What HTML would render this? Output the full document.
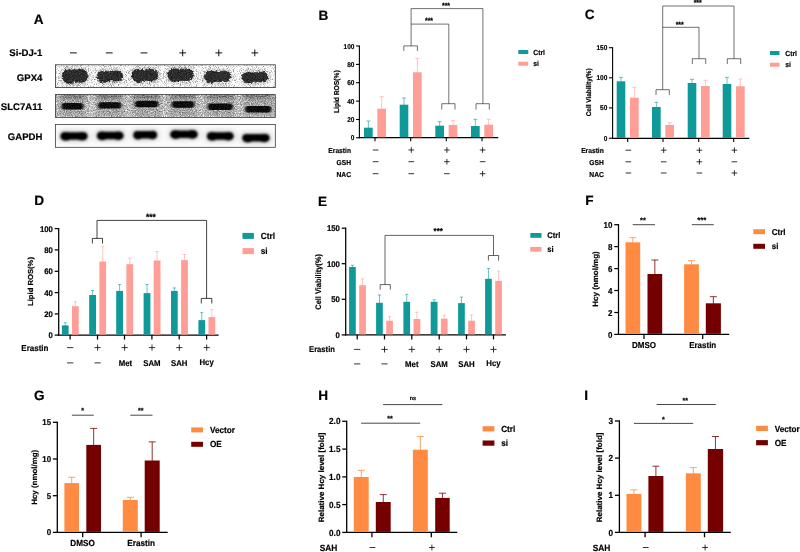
<!DOCTYPE html>
<html><head><meta charset="utf-8"><title>Figure</title>
<style>
html,body{margin:0;padding:0;background:#fff;}
svg{display:block;font-family:"Liberation Sans",sans-serif;fill:#000;}
text{stroke:#000;stroke-width:0.18px;text-rendering:geometricPrecision;}
</style></head><body>
<svg width="800" height="552" viewBox="0 0 800 552">
<rect x="0" y="0" width="800" height="552" fill="#ffffff"/>
<defs>
<filter id="b1" x="-10%" y="-50%" width="120%" height="200%"><feGaussianBlur stdDeviation="2.0 1.6"/></filter>
<filter id="b1b" x="-10%" y="-50%" width="120%" height="200%"><feGaussianBlur stdDeviation="0.6" result="bl"/><feTurbulence type="fractalNoise" baseFrequency="0.45" numOctaves="2" seed="5" result="t"/><feDisplacementMap in="bl" in2="t" scale="3.2" xChannelSelector="R" yChannelSelector="G"/></filter>
<filter id="b2" x="-10%" y="-50%" width="120%" height="200%"><feGaussianBlur stdDeviation="1.0 0.75"/></filter>
<filter id="b3" x="-10%" y="-50%" width="120%" height="200%"><feGaussianBlur stdDeviation="2.5 1.8"/></filter>
<filter id="b4" x="-10%" y="-50%" width="120%" height="200%"><feGaussianBlur stdDeviation="0.9 0.8"/></filter>
<filter id="grain1" x="0" y="0" width="100%" height="100%" color-interpolation-filters="sRGB">
<feTurbulence type="fractalNoise" baseFrequency="1.13" numOctaves="1" seed="3" result="n"/>
<feColorMatrix in="n" type="matrix" values="1 0 0 0 0  1 0 0 0 0  1 0 0 0 0  0 0 0 0 1" result="ng"/>
<feComposite in="SourceGraphic" in2="ng" operator="arithmetic" k1="1.55" k2="0.30" k3="0.12" k4="-0.06" result="m"/>
<feComposite in="m" in2="SourceGraphic" operator="in"/>
</filter>
<filter id="grain2" x="0" y="0" width="100%" height="100%" color-interpolation-filters="sRGB">
<feTurbulence type="fractalNoise" baseFrequency="0.87" numOctaves="2" seed="8" result="n"/>
<feColorMatrix in="n" type="matrix" values="1 0 0 0 0  1 0 0 0 0  1 0 0 0 0  0 0 0 0 1" result="ng"/>
<feComposite in="SourceGraphic" in2="ng" operator="arithmetic" k1="1.0" k2="0.5" k3="0.2" k4="-0.10" result="m"/>
<feComposite in="m" in2="SourceGraphic" operator="in"/>
</filter>
</defs>
<text transform="translate(33.80 23.50)" font-size="13.6" text-anchor="start" font-weight="bold">A</text>
<text transform="translate(42.40 56.10)" font-size="9.6" text-anchor="end" font-weight="bold">Si-DJ-1</text>
<text transform="translate(42.40 80.80)" font-size="9.6" text-anchor="end" font-weight="bold">GPX4</text>
<text transform="translate(42.40 110.20)" font-size="9.6" text-anchor="end" font-weight="bold">SLC7A11</text>
<text transform="translate(42.40 139.90)" font-size="9.6" text-anchor="end" font-weight="bold">GAPDH</text>
<line x1="70.00" y1="52.90" x2="76.80" y2="52.90" stroke="#111" stroke-width="1.0"/>
<line x1="105.80" y1="52.90" x2="112.60" y2="52.90" stroke="#111" stroke-width="1.0"/>
<line x1="140.60" y1="52.90" x2="147.40" y2="52.90" stroke="#111" stroke-width="1.0"/>
<line x1="179.30" y1="52.90" x2="186.10" y2="52.90" stroke="#111" stroke-width="1.0"/>
<line x1="182.70" y1="49.50" x2="182.70" y2="56.30" stroke="#111" stroke-width="1.0"/>
<line x1="215.40" y1="52.90" x2="222.20" y2="52.90" stroke="#111" stroke-width="1.0"/>
<line x1="218.80" y1="49.50" x2="218.80" y2="56.30" stroke="#111" stroke-width="1.0"/>
<line x1="251.40" y1="52.90" x2="258.20" y2="52.90" stroke="#111" stroke-width="1.0"/>
<line x1="254.80" y1="49.50" x2="254.80" y2="56.30" stroke="#111" stroke-width="1.0"/>
<g filter="url(#grain1)"><rect x="55.4" y="64.8" width="219.9" height="22.8" fill="#f2f2f2"/>
<g filter="url(#b1)">
<rect x="59.4" y="65.6" width="31.0" height="20.8" rx="8" fill="#000" opacity="0.22"/>
<rect x="94.5" y="67.4" width="31.0" height="17.6" rx="8" fill="#000" opacity="0.22"/>
<rect x="129.0" y="65.6" width="31.6" height="19.0" rx="8" fill="#000" opacity="0.22"/>
<rect x="165.0" y="65.0" width="31.0" height="19.6" rx="8" fill="#000" opacity="0.22"/>
<rect x="201.6" y="67.4" width="31.9" height="18.1" rx="8" fill="#000" opacity="0.22"/>
<rect x="239.4" y="68.6" width="31.0" height="16.9" rx="8" fill="#000" opacity="0.22"/>
</g><g filter="url(#b1b)">
<rect x="61.8" y="69.4" width="26.2" height="13.2" rx="6.6" fill="#2a2a2a"/>
<ellipse cx="69.0" cy="76.6" rx="6.5" ry="7.4" fill="#2a2a2a"/>
<ellipse cx="80.8" cy="75.8" rx="6.5" ry="6.7" fill="#2a2a2a"/>
<rect x="96.9" y="71.2" width="26.2" height="10.0" rx="5.0" fill="#2a2a2a"/>
<ellipse cx="104.1" cy="76.8" rx="6.5" ry="6.0" fill="#2a2a2a"/>
<ellipse cx="115.9" cy="76.0" rx="6.5" ry="5.4" fill="#2a2a2a"/>
<rect x="131.4" y="69.4" width="26.8" height="11.4" rx="5.7" fill="#2a2a2a"/>
<ellipse cx="138.7" cy="75.7" rx="6.6" ry="6.6" fill="#2a2a2a"/>
<ellipse cx="150.9" cy="74.9" rx="6.6" ry="6.0" fill="#2a2a2a"/>
<rect x="167.4" y="68.8" width="26.2" height="12.0" rx="6.0" fill="#2a2a2a"/>
<ellipse cx="174.6" cy="75.4" rx="6.5" ry="6.9" fill="#2a2a2a"/>
<ellipse cx="186.4" cy="74.6" rx="6.5" ry="6.2" fill="#2a2a2a"/>
<rect x="204.0" y="71.2" width="27.1" height="10.5" rx="5.2" fill="#2a2a2a"/>
<ellipse cx="211.4" cy="77.0" rx="6.7" ry="6.2" fill="#2a2a2a"/>
<ellipse cx="223.7" cy="76.2" rx="6.7" ry="5.6" fill="#2a2a2a"/>
<rect x="241.8" y="72.4" width="26.2" height="9.3" rx="4.7" fill="#2a2a2a"/>
<ellipse cx="249.0" cy="77.6" rx="6.5" ry="5.7" fill="#2a2a2a"/>
<ellipse cx="260.8" cy="76.8" rx="6.5" ry="5.2" fill="#2a2a2a"/>
</g></g>
<rect x="55.4" y="64.8" width="219.9" height="22.8" fill="none" stroke="#3c3c3c" stroke-width="0.8"/>
<g filter="url(#grain2)"><rect x="55.4" y="94.6" width="219.9" height="22.8" fill="#c4c4c4"/>
<g filter="url(#b3)">
<rect x="58.4" y="95.0" width="28.2" height="21.5" fill="#000" opacity="0.16"/>
<rect x="60.4" y="94.0" width="24.2" height="4.0" fill="#000" opacity="0.35"/>
<rect x="95.0" y="95.0" width="29.4" height="21.5" fill="#000" opacity="0.16"/>
<rect x="97.0" y="94.0" width="25.4" height="4.0" fill="#000" opacity="0.35"/>
<rect x="131.6" y="95.0" width="30.0" height="21.5" fill="#000" opacity="0.16"/>
<rect x="133.6" y="94.0" width="26.0" height="4.0" fill="#000" opacity="0.35"/>
<rect x="168.5" y="95.0" width="29.1" height="21.5" fill="#000" opacity="0.16"/>
<rect x="170.5" y="94.0" width="25.1" height="4.0" fill="#000" opacity="0.35"/>
<rect x="204.5" y="95.0" width="31.5" height="21.5" fill="#000" opacity="0.16"/>
<rect x="206.5" y="94.0" width="27.5" height="4.0" fill="#000" opacity="0.35"/>
<rect x="242.0" y="95.0" width="32.4" height="21.5" fill="#000" opacity="0.16"/>
<rect x="244.0" y="94.0" width="28.4" height="4.0" fill="#000" opacity="0.35"/>
</g><g filter="url(#b2)">
<rect x="61.6" y="103.1" width="21.8" height="6.4" rx="3.2" fill="#080808"/>
<rect x="98.2" y="102.2" width="23.0" height="6.4" rx="3.2" fill="#080808"/>
<rect x="134.8" y="100.8" width="23.6" height="6.4" rx="3.2" fill="#080808"/>
<rect x="171.7" y="101.3" width="22.7" height="6.4" rx="3.2" fill="#080808"/>
<rect x="207.7" y="103.5" width="25.1" height="6.4" rx="3.2" fill="#080808"/>
<rect x="245.2" y="106.1" width="26.0" height="6.4" rx="3.2" fill="#080808"/>
</g></g>
<rect x="55.4" y="94.6" width="219.9" height="22.8" fill="none" stroke="#3c3c3c" stroke-width="0.8"/>
<g><rect x="55.4" y="124.5" width="219.9" height="22.8" fill="#fbfbfb"/>
<g filter="url(#b3)">
<rect x="57.6" y="129.0" width="32.8" height="14" rx="6" fill="#000" opacity="0.10"/>
<rect x="94.0" y="128.5" width="32.4" height="14" rx="6" fill="#000" opacity="0.10"/>
<rect x="130.5" y="127.8" width="29.5" height="14" rx="6" fill="#000" opacity="0.10"/>
<rect x="167.4" y="127.2" width="33.1" height="14" rx="6" fill="#000" opacity="0.10"/>
<rect x="204.0" y="129.0" width="32.5" height="14" rx="6" fill="#000" opacity="0.10"/>
<rect x="239.4" y="130.8" width="33.1" height="14" rx="6" fill="#000" opacity="0.10"/>
</g><g filter="url(#b4)">
<rect x="60.6" y="132.2" width="26.8" height="7.6" rx="3.8" fill="#000"/>
<ellipse cx="65.9" cy="136.4" rx="5.5" ry="4.3" fill="#000"/>
<ellipse cx="82.1" cy="136.2" rx="5.5" ry="4.3" fill="#000"/>
<rect x="97.0" y="131.7" width="26.4" height="7.6" rx="3.8" fill="#000"/>
<ellipse cx="102.2" cy="135.9" rx="5.4" ry="4.3" fill="#000"/>
<ellipse cx="118.2" cy="135.7" rx="5.4" ry="4.3" fill="#000"/>
<rect x="133.5" y="131.0" width="23.5" height="7.6" rx="3.8" fill="#000"/>
<ellipse cx="138.1" cy="135.2" rx="4.8" ry="4.3" fill="#000"/>
<ellipse cx="152.4" cy="135.0" rx="4.8" ry="4.3" fill="#000"/>
<rect x="170.4" y="130.4" width="27.1" height="7.6" rx="3.8" fill="#000"/>
<ellipse cx="175.8" cy="134.6" rx="5.5" ry="4.3" fill="#000"/>
<ellipse cx="192.1" cy="134.4" rx="5.5" ry="4.3" fill="#000"/>
<rect x="207.0" y="132.2" width="26.5" height="7.6" rx="3.8" fill="#000"/>
<ellipse cx="212.3" cy="136.4" rx="5.4" ry="4.3" fill="#000"/>
<ellipse cx="228.2" cy="136.2" rx="5.4" ry="4.3" fill="#000"/>
<rect x="242.4" y="134.0" width="27.1" height="7.6" rx="3.8" fill="#000"/>
<ellipse cx="247.8" cy="138.2" rx="5.5" ry="4.3" fill="#000"/>
<ellipse cx="264.1" cy="138.0" rx="5.5" ry="4.3" fill="#000"/>
</g></g>
<rect x="55.4" y="124.5" width="219.9" height="22.8" fill="none" stroke="#3c3c3c" stroke-width="0.8"/>
<text transform="translate(318.50 19.50)" font-size="13.6" text-anchor="start" font-weight="bold">B</text>
<line x1="359.40" y1="45.45" x2="359.40" y2="138.20" stroke="#000" stroke-width="1.1"/>
<line x1="358.85" y1="137.65" x2="498.30" y2="137.65" stroke="#000" stroke-width="1.1"/>
<line x1="356.05" y1="46.00" x2="359.40" y2="46.00" stroke="#000" stroke-width="1.1"/>
<text transform="translate(354.45 48.52) scale(0.93 1)" font-size="7.0" text-anchor="end" font-weight="bold">100</text>
<line x1="356.05" y1="64.40" x2="359.40" y2="64.40" stroke="#000" stroke-width="1.1"/>
<text transform="translate(354.45 66.92) scale(0.93 1)" font-size="7.0" text-anchor="end" font-weight="bold">80</text>
<line x1="356.05" y1="82.70" x2="359.40" y2="82.70" stroke="#000" stroke-width="1.1"/>
<text transform="translate(354.45 85.22) scale(0.93 1)" font-size="7.0" text-anchor="end" font-weight="bold">60</text>
<line x1="356.05" y1="101.10" x2="359.40" y2="101.10" stroke="#000" stroke-width="1.1"/>
<text transform="translate(354.45 103.62) scale(0.93 1)" font-size="7.0" text-anchor="end" font-weight="bold">40</text>
<line x1="356.05" y1="119.50" x2="359.40" y2="119.50" stroke="#000" stroke-width="1.1"/>
<text transform="translate(354.45 122.02) scale(0.93 1)" font-size="7.0" text-anchor="end" font-weight="bold">20</text>
<line x1="356.05" y1="137.75" x2="359.40" y2="137.75" stroke="#000" stroke-width="1.1"/>
<text transform="translate(354.45 140.27) scale(0.93 1)" font-size="7.0" text-anchor="end" font-weight="bold">0</text>
<line x1="375.00" y1="137.65" x2="375.00" y2="141.20" stroke="#000" stroke-width="1.1"/>
<line x1="368.35" y1="121.00" x2="368.35" y2="128.20" stroke="#0f9999" stroke-width="0.6"/>
<line x1="366.35" y1="121.00" x2="370.35" y2="121.00" stroke="#0f9999" stroke-width="0.6"/>
<rect x="364.00" y="127.70" width="8.70" height="9.55" fill="#0f9999"/>
<line x1="381.65" y1="96.70" x2="381.65" y2="109.20" stroke="#ff9d97" stroke-width="0.6"/>
<line x1="379.65" y1="96.70" x2="383.65" y2="96.70" stroke="#ff9d97" stroke-width="0.6"/>
<rect x="377.30" y="108.70" width="8.70" height="28.55" fill="#ff9d97"/>
<line x1="410.70" y1="137.65" x2="410.70" y2="141.20" stroke="#000" stroke-width="1.1"/>
<line x1="404.00" y1="98.00" x2="404.00" y2="105.20" stroke="#0f9999" stroke-width="0.6"/>
<line x1="402.00" y1="98.00" x2="406.00" y2="98.00" stroke="#0f9999" stroke-width="0.6"/>
<rect x="399.70" y="104.70" width="8.60" height="32.55" fill="#0f9999"/>
<line x1="417.35" y1="58.30" x2="417.35" y2="72.80" stroke="#ff9d97" stroke-width="0.6"/>
<line x1="415.35" y1="58.30" x2="419.35" y2="58.30" stroke="#ff9d97" stroke-width="0.6"/>
<rect x="413.00" y="72.30" width="8.70" height="64.95" fill="#ff9d97"/>
<line x1="446.30" y1="137.65" x2="446.30" y2="141.20" stroke="#000" stroke-width="1.1"/>
<line x1="439.65" y1="121.70" x2="439.65" y2="126.20" stroke="#0f9999" stroke-width="0.6"/>
<line x1="437.65" y1="121.70" x2="441.65" y2="121.70" stroke="#0f9999" stroke-width="0.6"/>
<rect x="435.30" y="125.70" width="8.70" height="11.55" fill="#0f9999"/>
<line x1="453.00" y1="120.70" x2="453.00" y2="125.50" stroke="#ff9d97" stroke-width="0.6"/>
<line x1="451.00" y1="120.70" x2="455.00" y2="120.70" stroke="#ff9d97" stroke-width="0.6"/>
<rect x="448.70" y="125.00" width="8.60" height="12.25" fill="#ff9d97"/>
<line x1="482.00" y1="137.65" x2="482.00" y2="141.20" stroke="#000" stroke-width="1.1"/>
<line x1="475.35" y1="119.30" x2="475.35" y2="126.50" stroke="#0f9999" stroke-width="0.6"/>
<line x1="473.35" y1="119.30" x2="477.35" y2="119.30" stroke="#0f9999" stroke-width="0.6"/>
<rect x="471.00" y="126.00" width="8.70" height="11.25" fill="#0f9999"/>
<line x1="488.65" y1="119.30" x2="488.65" y2="125.20" stroke="#ff9d97" stroke-width="0.6"/>
<line x1="486.65" y1="119.30" x2="490.65" y2="119.30" stroke="#ff9d97" stroke-width="0.6"/>
<rect x="484.30" y="124.70" width="8.70" height="12.55" fill="#ff9d97"/>
<text transform="translate(338.80 91.70) rotate(-90) scale(0.93 1)" font-size="7.2" text-anchor="middle" font-weight="bold">Lipid ROS(%)</text>
<path d="M403.80 51.00 V45.90 H417.40 V51.00" stroke="#111" stroke-width="0.6" fill="none"/>
<path d="M411.1 45.9 V8.6 H482.9 V103.7" stroke="#111" stroke-width="0.6" fill="none"/>
<path d="M476.00 109.60 V103.70 H489.30 V109.60" stroke="#111" stroke-width="0.6" fill="none"/>
<path d="M411.1 24.1 H448.8 V103.7" stroke="#111" stroke-width="0.6" fill="none"/>
<path d="M441.80 109.60 V103.70 H455.00 V109.60" stroke="#111" stroke-width="0.6" fill="none"/>
<text transform="translate(446.00 7.70) scale(0.93 1)" font-size="7.5" text-anchor="middle" font-weight="bold">***</text>
<text transform="translate(429.00 22.90) scale(0.93 1)" font-size="7.5" text-anchor="middle" font-weight="bold">***</text>
<rect x="518.30" y="50.00" width="10.00" height="4.00" fill="#0f9999"/>
<text transform="translate(533.30 54.63) scale(0.93 1)" font-size="7.3" text-anchor="start" font-weight="bold">Ctrl</text>
<rect x="518.30" y="61.70" width="10.00" height="4.00" fill="#ff9d97"/>
<text transform="translate(533.30 66.33) scale(0.93 1)" font-size="7.3" text-anchor="start" font-weight="bold">si</text>
<text transform="translate(351.00 152.90) scale(0.93 1)" font-size="7.2" text-anchor="end" font-weight="bold">Erastin</text>
<text transform="translate(351.00 164.50) scale(0.93 1)" font-size="7.2" text-anchor="end" font-weight="bold">GSH</text>
<text transform="translate(351.00 176.70) scale(0.93 1)" font-size="7.2" text-anchor="end" font-weight="bold">NAC</text>
<line x1="372.80" y1="150.00" x2="378.40" y2="150.00" stroke="#111" stroke-width="0.85"/>
<line x1="408.50" y1="150.00" x2="414.10" y2="150.00" stroke="#111" stroke-width="0.85"/>
<line x1="411.30" y1="147.20" x2="411.30" y2="152.80" stroke="#111" stroke-width="0.85"/>
<line x1="444.10" y1="150.00" x2="449.70" y2="150.00" stroke="#111" stroke-width="0.85"/>
<line x1="446.90" y1="147.20" x2="446.90" y2="152.80" stroke="#111" stroke-width="0.85"/>
<line x1="479.80" y1="150.00" x2="485.40" y2="150.00" stroke="#111" stroke-width="0.85"/>
<line x1="482.60" y1="147.20" x2="482.60" y2="152.80" stroke="#111" stroke-width="0.85"/>
<line x1="372.80" y1="161.70" x2="378.40" y2="161.70" stroke="#111" stroke-width="0.85"/>
<line x1="408.50" y1="161.70" x2="414.10" y2="161.70" stroke="#111" stroke-width="0.85"/>
<line x1="444.10" y1="161.70" x2="449.70" y2="161.70" stroke="#111" stroke-width="0.85"/>
<line x1="446.90" y1="158.90" x2="446.90" y2="164.50" stroke="#111" stroke-width="0.85"/>
<line x1="479.80" y1="161.70" x2="485.40" y2="161.70" stroke="#111" stroke-width="0.85"/>
<line x1="372.80" y1="173.70" x2="378.40" y2="173.70" stroke="#111" stroke-width="0.85"/>
<line x1="408.50" y1="173.70" x2="414.10" y2="173.70" stroke="#111" stroke-width="0.85"/>
<line x1="444.10" y1="173.70" x2="449.70" y2="173.70" stroke="#111" stroke-width="0.85"/>
<line x1="479.80" y1="173.70" x2="485.40" y2="173.70" stroke="#111" stroke-width="0.85"/>
<line x1="482.60" y1="170.90" x2="482.60" y2="176.50" stroke="#111" stroke-width="0.85"/>
<text transform="translate(584.80 18.70)" font-size="13.6" text-anchor="start" font-weight="bold">C</text>
<line x1="612.60" y1="47.15" x2="612.60" y2="138.95" stroke="#000" stroke-width="1.1"/>
<line x1="612.05" y1="138.40" x2="749.30" y2="138.40" stroke="#000" stroke-width="1.1"/>
<line x1="608.95" y1="47.70" x2="612.60" y2="47.70" stroke="#000" stroke-width="1.1"/>
<text transform="translate(607.35 50.22) scale(0.93 1)" font-size="7.0" text-anchor="end" font-weight="bold">150</text>
<line x1="608.95" y1="77.80" x2="612.60" y2="77.80" stroke="#000" stroke-width="1.1"/>
<text transform="translate(607.35 80.32) scale(0.93 1)" font-size="7.0" text-anchor="end" font-weight="bold">100</text>
<line x1="608.95" y1="107.90" x2="612.60" y2="107.90" stroke="#000" stroke-width="1.1"/>
<text transform="translate(607.35 110.42) scale(0.93 1)" font-size="7.0" text-anchor="end" font-weight="bold">50</text>
<line x1="608.95" y1="138.20" x2="612.60" y2="138.20" stroke="#000" stroke-width="1.1"/>
<text transform="translate(607.35 140.72) scale(0.93 1)" font-size="7.0" text-anchor="end" font-weight="bold">0</text>
<line x1="627.70" y1="138.40" x2="627.70" y2="141.95" stroke="#000" stroke-width="1.1"/>
<line x1="621.00" y1="77.30" x2="621.00" y2="81.80" stroke="#0f9999" stroke-width="0.6"/>
<line x1="619.00" y1="77.30" x2="623.00" y2="77.30" stroke="#0f9999" stroke-width="0.6"/>
<rect x="616.70" y="81.30" width="8.60" height="56.70" fill="#0f9999"/>
<line x1="634.35" y1="87.30" x2="634.35" y2="98.20" stroke="#ff9d97" stroke-width="0.6"/>
<line x1="632.35" y1="87.30" x2="636.35" y2="87.30" stroke="#ff9d97" stroke-width="0.6"/>
<rect x="630.00" y="97.70" width="8.70" height="40.30" fill="#ff9d97"/>
<line x1="663.00" y1="138.40" x2="663.00" y2="141.95" stroke="#000" stroke-width="1.1"/>
<line x1="656.35" y1="102.30" x2="656.35" y2="107.50" stroke="#0f9999" stroke-width="0.6"/>
<line x1="654.35" y1="102.30" x2="658.35" y2="102.30" stroke="#0f9999" stroke-width="0.6"/>
<rect x="652.00" y="107.00" width="8.70" height="31.00" fill="#0f9999"/>
<line x1="669.65" y1="122.70" x2="669.65" y2="125.50" stroke="#ff9d97" stroke-width="0.6"/>
<line x1="667.65" y1="122.70" x2="671.65" y2="122.70" stroke="#ff9d97" stroke-width="0.6"/>
<rect x="665.30" y="125.00" width="8.70" height="13.00" fill="#ff9d97"/>
<line x1="698.70" y1="138.40" x2="698.70" y2="141.95" stroke="#000" stroke-width="1.1"/>
<line x1="692.00" y1="79.30" x2="692.00" y2="83.50" stroke="#0f9999" stroke-width="0.6"/>
<line x1="690.00" y1="79.30" x2="694.00" y2="79.30" stroke="#0f9999" stroke-width="0.6"/>
<rect x="687.70" y="83.00" width="8.60" height="55.00" fill="#0f9999"/>
<line x1="705.35" y1="80.30" x2="705.35" y2="86.50" stroke="#ff9d97" stroke-width="0.6"/>
<line x1="703.35" y1="80.30" x2="707.35" y2="80.30" stroke="#ff9d97" stroke-width="0.6"/>
<rect x="701.00" y="86.00" width="8.70" height="52.00" fill="#ff9d97"/>
<line x1="733.70" y1="138.40" x2="733.70" y2="141.95" stroke="#000" stroke-width="1.1"/>
<line x1="727.00" y1="77.30" x2="727.00" y2="84.50" stroke="#0f9999" stroke-width="0.6"/>
<line x1="725.00" y1="77.30" x2="729.00" y2="77.30" stroke="#0f9999" stroke-width="0.6"/>
<rect x="722.70" y="84.00" width="8.60" height="54.00" fill="#0f9999"/>
<line x1="740.35" y1="79.00" x2="740.35" y2="86.80" stroke="#ff9d97" stroke-width="0.6"/>
<line x1="738.35" y1="79.00" x2="742.35" y2="79.00" stroke="#ff9d97" stroke-width="0.6"/>
<rect x="736.00" y="86.30" width="8.70" height="51.70" fill="#ff9d97"/>
<text transform="translate(591.40 92.30) rotate(-90) scale(0.93 1)" font-size="6.9" text-anchor="middle" font-weight="bold">Cell Viability(%)</text>
<path d="M656.00 95.00 V89.70 H669.30 V95.00" stroke="#111" stroke-width="0.6" fill="none"/>
<path d="M662.7 89.7 V6 H734 V58.7" stroke="#111" stroke-width="0.6" fill="none"/>
<path d="M727.30 64.00 V58.70 H740.70 V64.00" stroke="#111" stroke-width="0.6" fill="none"/>
<path d="M662.7 27.3 H699 V58.7" stroke="#111" stroke-width="0.6" fill="none"/>
<path d="M692.30 64.00 V58.70 H705.70 V64.00" stroke="#111" stroke-width="0.6" fill="none"/>
<text transform="translate(697.70 4.90) scale(0.93 1)" font-size="7.5" text-anchor="middle" font-weight="bold">***</text>
<text transform="translate(679.70 26.90) scale(0.93 1)" font-size="7.5" text-anchor="middle" font-weight="bold">***</text>
<rect x="770.00" y="51.00" width="9.50" height="4.00" fill="#0f9999"/>
<text transform="translate(785.30 55.63) scale(0.93 1)" font-size="7.3" text-anchor="start" font-weight="bold">Ctrl</text>
<rect x="770.00" y="62.70" width="9.50" height="4.00" fill="#ff9d97"/>
<text transform="translate(785.30 67.33) scale(0.93 1)" font-size="7.3" text-anchor="start" font-weight="bold">si</text>
<text transform="translate(603.80 152.80) scale(0.93 1)" font-size="7.2" text-anchor="end" font-weight="bold">Erastin</text>
<text transform="translate(603.80 164.80) scale(0.93 1)" font-size="7.2" text-anchor="end" font-weight="bold">GSH</text>
<text transform="translate(603.80 176.50) scale(0.93 1)" font-size="7.2" text-anchor="end" font-weight="bold">NAC</text>
<line x1="625.60" y1="150.20" x2="631.20" y2="150.20" stroke="#111" stroke-width="0.85"/>
<line x1="660.90" y1="150.20" x2="666.50" y2="150.20" stroke="#111" stroke-width="0.85"/>
<line x1="663.70" y1="147.40" x2="663.70" y2="153.00" stroke="#111" stroke-width="0.85"/>
<line x1="696.60" y1="150.20" x2="702.20" y2="150.20" stroke="#111" stroke-width="0.85"/>
<line x1="699.40" y1="147.40" x2="699.40" y2="153.00" stroke="#111" stroke-width="0.85"/>
<line x1="731.60" y1="150.20" x2="737.20" y2="150.20" stroke="#111" stroke-width="0.85"/>
<line x1="734.40" y1="147.40" x2="734.40" y2="153.00" stroke="#111" stroke-width="0.85"/>
<line x1="625.60" y1="161.80" x2="631.20" y2="161.80" stroke="#111" stroke-width="0.85"/>
<line x1="660.90" y1="161.80" x2="666.50" y2="161.80" stroke="#111" stroke-width="0.85"/>
<line x1="696.60" y1="161.80" x2="702.20" y2="161.80" stroke="#111" stroke-width="0.85"/>
<line x1="699.40" y1="159.00" x2="699.40" y2="164.60" stroke="#111" stroke-width="0.85"/>
<line x1="731.60" y1="161.80" x2="737.20" y2="161.80" stroke="#111" stroke-width="0.85"/>
<line x1="625.60" y1="173.00" x2="631.20" y2="173.00" stroke="#111" stroke-width="0.85"/>
<line x1="660.90" y1="173.00" x2="666.50" y2="173.00" stroke="#111" stroke-width="0.85"/>
<line x1="696.60" y1="173.00" x2="702.20" y2="173.00" stroke="#111" stroke-width="0.85"/>
<line x1="731.60" y1="173.00" x2="737.20" y2="173.00" stroke="#111" stroke-width="0.85"/>
<line x1="734.40" y1="170.20" x2="734.40" y2="175.80" stroke="#111" stroke-width="0.85"/>
<text transform="translate(34.20 204.50)" font-size="13.6" text-anchor="start" font-weight="bold">D</text>
<line x1="58.70" y1="227.97" x2="58.70" y2="335.73" stroke="#000" stroke-width="1.25"/>
<line x1="58.08" y1="335.10" x2="218.60" y2="335.10" stroke="#000" stroke-width="1.25"/>
<line x1="54.68" y1="228.60" x2="58.70" y2="228.60" stroke="#000" stroke-width="1.25"/>
<text transform="translate(52.88 231.55) scale(0.95 1)" font-size="8.2" text-anchor="end" font-weight="bold">100</text>
<line x1="54.68" y1="249.90" x2="58.70" y2="249.90" stroke="#000" stroke-width="1.25"/>
<text transform="translate(52.88 252.85) scale(0.95 1)" font-size="8.2" text-anchor="end" font-weight="bold">80</text>
<line x1="54.68" y1="271.30" x2="58.70" y2="271.30" stroke="#000" stroke-width="1.25"/>
<text transform="translate(52.88 274.25) scale(0.95 1)" font-size="8.2" text-anchor="end" font-weight="bold">60</text>
<line x1="54.68" y1="292.60" x2="58.70" y2="292.60" stroke="#000" stroke-width="1.25"/>
<text transform="translate(52.88 295.55) scale(0.95 1)" font-size="8.2" text-anchor="end" font-weight="bold">40</text>
<line x1="54.68" y1="313.90" x2="58.70" y2="313.90" stroke="#000" stroke-width="1.25"/>
<text transform="translate(52.88 316.85) scale(0.95 1)" font-size="8.2" text-anchor="end" font-weight="bold">20</text>
<line x1="54.68" y1="335.10" x2="58.70" y2="335.10" stroke="#000" stroke-width="1.25"/>
<text transform="translate(52.88 338.05) scale(0.95 1)" font-size="8.2" text-anchor="end" font-weight="bold">0</text>
<line x1="70.10" y1="335.10" x2="70.10" y2="339.62" stroke="#000" stroke-width="1.25"/>
<line x1="65.25" y1="322.70" x2="65.25" y2="325.90" stroke="#0f9999" stroke-width="0.6"/>
<line x1="63.70" y1="322.70" x2="66.80" y2="322.70" stroke="#0f9999" stroke-width="0.6"/>
<rect x="61.90" y="325.40" width="6.70" height="9.23" fill="#0f9999"/>
<line x1="75.35" y1="301.70" x2="75.35" y2="306.70" stroke="#ff9d97" stroke-width="0.6"/>
<line x1="73.80" y1="301.70" x2="76.90" y2="301.70" stroke="#ff9d97" stroke-width="0.6"/>
<rect x="72.00" y="306.20" width="6.70" height="28.43" fill="#ff9d97"/>
<line x1="97.50" y1="335.10" x2="97.50" y2="339.62" stroke="#000" stroke-width="1.25"/>
<line x1="92.60" y1="290.50" x2="92.60" y2="295.50" stroke="#0f9999" stroke-width="0.6"/>
<line x1="91.05" y1="290.50" x2="94.15" y2="290.50" stroke="#0f9999" stroke-width="0.6"/>
<rect x="89.20" y="295.00" width="6.80" height="39.63" fill="#0f9999"/>
<line x1="102.75" y1="246.60" x2="102.75" y2="262.10" stroke="#ff9d97" stroke-width="0.6"/>
<line x1="101.20" y1="246.60" x2="104.30" y2="246.60" stroke="#ff9d97" stroke-width="0.6"/>
<rect x="99.40" y="261.60" width="6.70" height="73.03" fill="#ff9d97"/>
<line x1="124.50" y1="335.10" x2="124.50" y2="339.62" stroke="#000" stroke-width="1.25"/>
<line x1="119.60" y1="284.50" x2="119.60" y2="291.40" stroke="#0f9999" stroke-width="0.6"/>
<line x1="118.05" y1="284.50" x2="121.15" y2="284.50" stroke="#0f9999" stroke-width="0.6"/>
<rect x="116.20" y="290.90" width="6.80" height="43.73" fill="#0f9999"/>
<line x1="129.75" y1="258.20" x2="129.75" y2="264.70" stroke="#ff9d97" stroke-width="0.6"/>
<line x1="128.20" y1="258.20" x2="131.30" y2="258.20" stroke="#ff9d97" stroke-width="0.6"/>
<rect x="126.40" y="264.20" width="6.70" height="70.43" fill="#ff9d97"/>
<line x1="151.90" y1="335.10" x2="151.90" y2="339.62" stroke="#000" stroke-width="1.25"/>
<line x1="147.00" y1="284.50" x2="147.00" y2="293.60" stroke="#0f9999" stroke-width="0.6"/>
<line x1="145.45" y1="284.50" x2="148.55" y2="284.50" stroke="#0f9999" stroke-width="0.6"/>
<rect x="143.60" y="293.10" width="6.80" height="41.52" fill="#0f9999"/>
<line x1="157.10" y1="251.50" x2="157.10" y2="261.00" stroke="#ff9d97" stroke-width="0.6"/>
<line x1="155.55" y1="251.50" x2="158.65" y2="251.50" stroke="#ff9d97" stroke-width="0.6"/>
<rect x="153.70" y="260.50" width="6.80" height="74.13" fill="#ff9d97"/>
<line x1="179.20" y1="335.10" x2="179.20" y2="339.62" stroke="#000" stroke-width="1.25"/>
<line x1="174.35" y1="287.90" x2="174.35" y2="291.40" stroke="#0f9999" stroke-width="0.6"/>
<line x1="172.80" y1="287.90" x2="175.90" y2="287.90" stroke="#0f9999" stroke-width="0.6"/>
<rect x="171.00" y="290.90" width="6.70" height="43.73" fill="#0f9999"/>
<line x1="184.50" y1="254.50" x2="184.50" y2="260.60" stroke="#ff9d97" stroke-width="0.6"/>
<line x1="182.95" y1="254.50" x2="186.05" y2="254.50" stroke="#ff9d97" stroke-width="0.6"/>
<rect x="181.10" y="260.10" width="6.80" height="74.53" fill="#ff9d97"/>
<line x1="206.60" y1="335.10" x2="206.60" y2="339.62" stroke="#000" stroke-width="1.25"/>
<line x1="201.75" y1="312.60" x2="201.75" y2="320.60" stroke="#0f9999" stroke-width="0.6"/>
<line x1="200.20" y1="312.60" x2="203.30" y2="312.60" stroke="#0f9999" stroke-width="0.6"/>
<rect x="198.40" y="320.10" width="6.70" height="14.53" fill="#0f9999"/>
<line x1="211.85" y1="309.60" x2="211.85" y2="317.60" stroke="#ff9d97" stroke-width="0.6"/>
<line x1="210.30" y1="309.60" x2="213.40" y2="309.60" stroke="#ff9d97" stroke-width="0.6"/>
<rect x="208.50" y="317.10" width="6.70" height="17.52" fill="#ff9d97"/>
<text transform="translate(33.20 281.50) rotate(-90) scale(1.05 1)" font-size="7.3" text-anchor="middle" font-weight="bold">Lipid ROS(%)</text>
<path d="M92.40 243.50 V238.40 H102.50 V243.50" stroke="#111" stroke-width="0.8" fill="none"/>
<path d="M97.0 238.4 V220.4 H206.6 V298.4" stroke="#111" stroke-width="0.8" fill="none"/>
<path d="M201.30 303.50 V298.40 H211.80 V303.50" stroke="#111" stroke-width="0.8" fill="none"/>
<text transform="translate(150.90 219.60) scale(0.93 1)" font-size="9.0" text-anchor="middle" font-weight="bold">***</text>
<rect x="242.50" y="232.90" width="11.40" height="6.00" fill="#0f9999"/>
<text transform="translate(260.70 239.24) scale(0.93 1)" font-size="9.0" text-anchor="start" font-weight="bold">Ctrl</text>
<rect x="242.50" y="248.10" width="11.40" height="6.00" fill="#ff9d97"/>
<text transform="translate(260.70 254.44) scale(0.93 1)" font-size="9.0" text-anchor="start" font-weight="bold">si</text>
<text transform="translate(48.40 351.20) scale(0.93 1)" font-size="8.6" text-anchor="end" font-weight="bold">Erastin</text>
<line x1="67.10" y1="347.60" x2="73.30" y2="347.60" stroke="#111" stroke-width="0.85"/>
<line x1="94.50" y1="347.60" x2="100.70" y2="347.60" stroke="#111" stroke-width="0.85"/>
<line x1="97.60" y1="344.50" x2="97.60" y2="350.70" stroke="#111" stroke-width="0.85"/>
<line x1="121.50" y1="347.60" x2="127.70" y2="347.60" stroke="#111" stroke-width="0.85"/>
<line x1="124.60" y1="344.50" x2="124.60" y2="350.70" stroke="#111" stroke-width="0.85"/>
<line x1="148.90" y1="347.60" x2="155.10" y2="347.60" stroke="#111" stroke-width="0.85"/>
<line x1="152.00" y1="344.50" x2="152.00" y2="350.70" stroke="#111" stroke-width="0.85"/>
<line x1="176.20" y1="347.60" x2="182.40" y2="347.60" stroke="#111" stroke-width="0.85"/>
<line x1="179.30" y1="344.50" x2="179.30" y2="350.70" stroke="#111" stroke-width="0.85"/>
<line x1="203.60" y1="347.60" x2="209.80" y2="347.60" stroke="#111" stroke-width="0.85"/>
<line x1="206.70" y1="344.50" x2="206.70" y2="350.70" stroke="#111" stroke-width="0.85"/>
<line x1="67.10" y1="362.90" x2="73.30" y2="362.90" stroke="#111" stroke-width="0.85"/>
<line x1="94.50" y1="362.90" x2="100.70" y2="362.90" stroke="#111" stroke-width="0.85"/>
<text transform="translate(125.50 365.60) scale(0.93 1)" font-size="8.4" text-anchor="middle" font-weight="bold">Met</text>
<text transform="translate(151.90 365.60) scale(0.93 1)" font-size="8.4" text-anchor="middle" font-weight="bold">SAM</text>
<text transform="translate(179.20 365.60) scale(0.93 1)" font-size="8.4" text-anchor="middle" font-weight="bold">SAH</text>
<text transform="translate(206.60 364.80) scale(0.93 1)" font-size="8.4" text-anchor="middle" font-weight="bold">Hcy</text>
<text transform="translate(318.00 205.60)" font-size="13.6" text-anchor="start" font-weight="bold">E</text>
<line x1="345.70" y1="227.57" x2="345.70" y2="335.52" stroke="#000" stroke-width="1.25"/>
<line x1="345.07" y1="334.90" x2="505.90" y2="334.90" stroke="#000" stroke-width="1.25"/>
<line x1="341.68" y1="228.20" x2="345.70" y2="228.20" stroke="#000" stroke-width="1.25"/>
<text transform="translate(339.88 231.15) scale(0.95 1)" font-size="8.2" text-anchor="end" font-weight="bold">150</text>
<line x1="341.68" y1="263.70" x2="345.70" y2="263.70" stroke="#000" stroke-width="1.25"/>
<text transform="translate(339.88 266.65) scale(0.95 1)" font-size="8.2" text-anchor="end" font-weight="bold">100</text>
<line x1="341.68" y1="299.30" x2="345.70" y2="299.30" stroke="#000" stroke-width="1.25"/>
<text transform="translate(339.88 302.25) scale(0.95 1)" font-size="8.2" text-anchor="end" font-weight="bold">50</text>
<line x1="341.68" y1="334.90" x2="345.70" y2="334.90" stroke="#000" stroke-width="1.25"/>
<text transform="translate(339.88 337.85) scale(0.95 1)" font-size="8.2" text-anchor="end" font-weight="bold">0</text>
<line x1="357.20" y1="334.90" x2="357.20" y2="339.42" stroke="#000" stroke-width="1.25"/>
<line x1="352.45" y1="265.30" x2="352.45" y2="267.50" stroke="#0f9999" stroke-width="0.6"/>
<line x1="350.80" y1="265.30" x2="354.10" y2="265.30" stroke="#0f9999" stroke-width="0.6"/>
<rect x="349.10" y="267.00" width="6.70" height="67.42" fill="#0f9999"/>
<line x1="362.55" y1="278.80" x2="362.55" y2="285.70" stroke="#ff9d97" stroke-width="0.6"/>
<line x1="360.90" y1="278.80" x2="364.20" y2="278.80" stroke="#ff9d97" stroke-width="0.6"/>
<rect x="359.20" y="285.20" width="6.70" height="49.22" fill="#ff9d97"/>
<line x1="384.50" y1="334.90" x2="384.50" y2="339.42" stroke="#000" stroke-width="1.25"/>
<line x1="379.45" y1="295.00" x2="379.45" y2="303.30" stroke="#0f9999" stroke-width="0.6"/>
<line x1="377.80" y1="295.00" x2="381.10" y2="295.00" stroke="#0f9999" stroke-width="0.6"/>
<rect x="376.10" y="302.80" width="6.70" height="31.62" fill="#0f9999"/>
<line x1="389.55" y1="316.60" x2="389.55" y2="321.20" stroke="#ff9d97" stroke-width="0.6"/>
<line x1="387.90" y1="316.60" x2="391.20" y2="316.60" stroke="#ff9d97" stroke-width="0.6"/>
<rect x="386.20" y="320.70" width="6.70" height="13.72" fill="#ff9d97"/>
<line x1="411.80" y1="334.90" x2="411.80" y2="339.42" stroke="#000" stroke-width="1.25"/>
<line x1="406.75" y1="294.40" x2="406.75" y2="302.30" stroke="#0f9999" stroke-width="0.6"/>
<line x1="405.10" y1="294.40" x2="408.40" y2="294.40" stroke="#0f9999" stroke-width="0.6"/>
<rect x="403.40" y="301.80" width="6.70" height="32.62" fill="#0f9999"/>
<line x1="416.90" y1="312.20" x2="416.90" y2="319.50" stroke="#ff9d97" stroke-width="0.6"/>
<line x1="415.25" y1="312.20" x2="418.55" y2="312.20" stroke="#ff9d97" stroke-width="0.6"/>
<rect x="413.50" y="319.00" width="6.80" height="15.42" fill="#ff9d97"/>
<line x1="439.20" y1="334.90" x2="439.20" y2="339.42" stroke="#000" stroke-width="1.25"/>
<line x1="434.10" y1="299.80" x2="434.10" y2="302.30" stroke="#0f9999" stroke-width="0.6"/>
<line x1="432.45" y1="299.80" x2="435.75" y2="299.80" stroke="#0f9999" stroke-width="0.6"/>
<rect x="430.70" y="301.80" width="6.80" height="32.62" fill="#0f9999"/>
<line x1="444.25" y1="315.30" x2="444.25" y2="319.20" stroke="#ff9d97" stroke-width="0.6"/>
<line x1="442.60" y1="315.30" x2="445.90" y2="315.30" stroke="#ff9d97" stroke-width="0.6"/>
<rect x="440.90" y="318.70" width="6.70" height="15.72" fill="#ff9d97"/>
<line x1="466.50" y1="334.90" x2="466.50" y2="339.42" stroke="#000" stroke-width="1.25"/>
<line x1="461.45" y1="297.10" x2="461.45" y2="303.60" stroke="#0f9999" stroke-width="0.6"/>
<line x1="459.80" y1="297.10" x2="463.10" y2="297.10" stroke="#0f9999" stroke-width="0.6"/>
<rect x="458.10" y="303.10" width="6.70" height="31.32" fill="#0f9999"/>
<line x1="471.55" y1="315.00" x2="471.55" y2="321.20" stroke="#ff9d97" stroke-width="0.6"/>
<line x1="469.90" y1="315.00" x2="473.20" y2="315.00" stroke="#ff9d97" stroke-width="0.6"/>
<rect x="468.20" y="320.70" width="6.70" height="13.72" fill="#ff9d97"/>
<line x1="493.50" y1="334.90" x2="493.50" y2="339.42" stroke="#000" stroke-width="1.25"/>
<line x1="488.45" y1="268.40" x2="488.45" y2="279.30" stroke="#0f9999" stroke-width="0.6"/>
<line x1="486.80" y1="268.40" x2="490.10" y2="268.40" stroke="#0f9999" stroke-width="0.6"/>
<rect x="485.10" y="278.80" width="6.70" height="55.62" fill="#0f9999"/>
<line x1="498.55" y1="271.10" x2="498.55" y2="281.40" stroke="#ff9d97" stroke-width="0.6"/>
<line x1="496.90" y1="271.10" x2="500.20" y2="271.10" stroke="#ff9d97" stroke-width="0.6"/>
<rect x="495.20" y="280.90" width="6.70" height="53.52" fill="#ff9d97"/>
<text transform="translate(321.20 281.90) rotate(-90) scale(0.93 1)" font-size="8.0" text-anchor="middle" font-weight="bold">Cell Viability(%)</text>
<path d="M380.20 289.60 V284.60 H390.30 V289.60" stroke="#111" stroke-width="0.65" fill="none"/>
<path d="M385.0 284.6 V235.4 H493.5 V255.5" stroke="#111" stroke-width="0.65" fill="none"/>
<path d="M488.40 260.60 V255.50 H498.60 V260.60" stroke="#111" stroke-width="0.65" fill="none"/>
<text transform="translate(438.20 234.00) scale(0.93 1)" font-size="8.6" text-anchor="middle" font-weight="bold">***</text>
<rect x="530.30" y="233.00" width="11.20" height="4.80" fill="#0f9999"/>
<text transform="translate(547.20 237.75) scale(0.93 1)" font-size="8.2" text-anchor="start" font-weight="bold">Ctrl</text>
<rect x="530.30" y="246.90" width="11.20" height="4.80" fill="#ff9d97"/>
<text transform="translate(547.20 251.65) scale(0.93 1)" font-size="8.2" text-anchor="start" font-weight="bold">si</text>
<text transform="translate(334.90 351.80) scale(0.93 1)" font-size="8.2" text-anchor="end" font-weight="bold">Erastin</text>
<line x1="354.10" y1="349.40" x2="360.30" y2="349.40" stroke="#111" stroke-width="0.85"/>
<line x1="381.40" y1="349.40" x2="387.60" y2="349.40" stroke="#111" stroke-width="0.85"/>
<line x1="384.50" y1="346.30" x2="384.50" y2="352.50" stroke="#111" stroke-width="0.85"/>
<line x1="408.70" y1="349.40" x2="414.90" y2="349.40" stroke="#111" stroke-width="0.85"/>
<line x1="411.80" y1="346.30" x2="411.80" y2="352.50" stroke="#111" stroke-width="0.85"/>
<line x1="436.10" y1="349.40" x2="442.30" y2="349.40" stroke="#111" stroke-width="0.85"/>
<line x1="439.20" y1="346.30" x2="439.20" y2="352.50" stroke="#111" stroke-width="0.85"/>
<line x1="463.40" y1="349.40" x2="469.60" y2="349.40" stroke="#111" stroke-width="0.85"/>
<line x1="466.50" y1="346.30" x2="466.50" y2="352.50" stroke="#111" stroke-width="0.85"/>
<line x1="490.40" y1="349.40" x2="496.60" y2="349.40" stroke="#111" stroke-width="0.85"/>
<line x1="493.50" y1="346.30" x2="493.50" y2="352.50" stroke="#111" stroke-width="0.85"/>
<line x1="354.10" y1="363.90" x2="360.30" y2="363.90" stroke="#111" stroke-width="0.85"/>
<line x1="381.40" y1="363.90" x2="387.60" y2="363.90" stroke="#111" stroke-width="0.85"/>
<text transform="translate(411.80 366.70) scale(0.93 1)" font-size="8.4" text-anchor="middle" font-weight="bold">Met</text>
<text transform="translate(439.20 366.70) scale(0.93 1)" font-size="8.4" text-anchor="middle" font-weight="bold">SAM</text>
<text transform="translate(466.50 366.70) scale(0.93 1)" font-size="8.4" text-anchor="middle" font-weight="bold">SAH</text>
<text transform="translate(493.50 365.80) scale(0.93 1)" font-size="8.4" text-anchor="middle" font-weight="bold">Hcy</text>
<text transform="translate(585.20 204.50)" font-size="13.6" text-anchor="start" font-weight="bold">F</text>
<line x1="618.50" y1="224.07" x2="618.50" y2="334.93" stroke="#000" stroke-width="1.25"/>
<line x1="617.88" y1="334.30" x2="729.20" y2="334.30" stroke="#000" stroke-width="1.25"/>
<line x1="614.27" y1="224.70" x2="618.50" y2="224.70" stroke="#000" stroke-width="1.25"/>
<text transform="translate(612.48 227.80) scale(0.93 1)" font-size="8.6" text-anchor="end" font-weight="bold">10</text>
<line x1="614.27" y1="246.60" x2="618.50" y2="246.60" stroke="#000" stroke-width="1.25"/>
<text transform="translate(612.48 249.70) scale(0.93 1)" font-size="8.6" text-anchor="end" font-weight="bold">8</text>
<line x1="614.27" y1="268.60" x2="618.50" y2="268.60" stroke="#000" stroke-width="1.25"/>
<text transform="translate(612.48 271.70) scale(0.93 1)" font-size="8.6" text-anchor="end" font-weight="bold">6</text>
<line x1="614.27" y1="290.50" x2="618.50" y2="290.50" stroke="#000" stroke-width="1.25"/>
<text transform="translate(612.48 293.60) scale(0.93 1)" font-size="8.6" text-anchor="end" font-weight="bold">4</text>
<line x1="614.27" y1="312.50" x2="618.50" y2="312.50" stroke="#000" stroke-width="1.25"/>
<text transform="translate(612.48 315.60) scale(0.93 1)" font-size="8.6" text-anchor="end" font-weight="bold">2</text>
<line x1="614.27" y1="334.40" x2="618.50" y2="334.40" stroke="#000" stroke-width="1.25"/>
<text transform="translate(612.48 337.50) scale(0.93 1)" font-size="8.6" text-anchor="end" font-weight="bold">0</text>
<line x1="644.00" y1="334.30" x2="644.00" y2="338.93" stroke="#000" stroke-width="1.25"/>
<line x1="632.85" y1="237.70" x2="632.85" y2="242.80" stroke="#ff8b42" stroke-width="0.8"/>
<line x1="629.35" y1="237.70" x2="636.35" y2="237.70" stroke="#ff8b42" stroke-width="0.8"/>
<rect x="625.50" y="242.30" width="14.70" height="91.53" fill="#ff8b42"/>
<line x1="654.85" y1="260.00" x2="654.85" y2="274.50" stroke="#740000" stroke-width="0.8"/>
<line x1="651.35" y1="260.00" x2="658.35" y2="260.00" stroke="#740000" stroke-width="0.8"/>
<rect x="647.50" y="274.00" width="14.70" height="59.83" fill="#740000"/>
<line x1="702.70" y1="334.30" x2="702.70" y2="338.93" stroke="#000" stroke-width="1.25"/>
<line x1="691.50" y1="260.70" x2="691.50" y2="264.80" stroke="#ff8b42" stroke-width="0.8"/>
<line x1="688.00" y1="260.70" x2="695.00" y2="260.70" stroke="#ff8b42" stroke-width="0.8"/>
<rect x="684.10" y="264.30" width="14.80" height="69.53" fill="#ff8b42"/>
<line x1="713.35" y1="296.70" x2="713.35" y2="303.80" stroke="#740000" stroke-width="0.8"/>
<line x1="709.85" y1="296.70" x2="716.85" y2="296.70" stroke="#740000" stroke-width="0.8"/>
<rect x="705.80" y="303.30" width="15.10" height="30.52" fill="#740000"/>
<text transform="translate(598.20 279.00) rotate(-90) scale(1.04 1)" font-size="7.7" text-anchor="middle" font-weight="bold">Hcy (nmol/mg)</text>
<line x1="632.70" y1="224.70" x2="655.00" y2="224.70" stroke="#333" stroke-width="0.9"/>
<line x1="691.80" y1="224.70" x2="713.80" y2="224.70" stroke="#333" stroke-width="0.9"/>
<text transform="translate(643.00 222.90) scale(0.93 1)" font-size="8.0" text-anchor="middle" font-weight="bold">**</text>
<text transform="translate(701.70 223.30) scale(0.93 1)" font-size="8.4" text-anchor="middle" font-weight="bold">***</text>
<rect x="753.30" y="229.20" width="11.70" height="5.00" fill="#ff8b42"/>
<text transform="translate(771.70 234.80) scale(0.93 1)" font-size="8.6" text-anchor="start" font-weight="bold">Ctrl</text>
<rect x="753.30" y="243.80" width="11.70" height="5.00" fill="#740000"/>
<text transform="translate(771.70 249.40) scale(0.93 1)" font-size="8.6" text-anchor="start" font-weight="bold">si</text>
<text transform="translate(644.00 347.80) scale(0.93 1)" font-size="8.6" text-anchor="middle" font-weight="bold">DMSO</text>
<text transform="translate(702.70 347.80) scale(0.93 1)" font-size="8.6" text-anchor="middle" font-weight="bold">Erastin</text>
<text transform="translate(34.00 399.90)" font-size="13.6" text-anchor="start" font-weight="bold">G</text>
<line x1="57.30" y1="421.65" x2="57.30" y2="533.05" stroke="#000" stroke-width="1.3"/>
<line x1="56.65" y1="532.40" x2="167.70" y2="532.40" stroke="#000" stroke-width="1.3"/>
<line x1="52.85" y1="422.30" x2="57.30" y2="422.30" stroke="#000" stroke-width="1.3"/>
<text transform="translate(51.05 425.36) scale(0.93 1)" font-size="8.5" text-anchor="end" font-weight="bold">15</text>
<line x1="52.85" y1="459.00" x2="57.30" y2="459.00" stroke="#000" stroke-width="1.3"/>
<text transform="translate(51.05 462.06) scale(0.93 1)" font-size="8.5" text-anchor="end" font-weight="bold">10</text>
<line x1="52.85" y1="495.70" x2="57.30" y2="495.70" stroke="#000" stroke-width="1.3"/>
<text transform="translate(51.05 498.76) scale(0.93 1)" font-size="8.5" text-anchor="end" font-weight="bold">5</text>
<line x1="52.85" y1="532.40" x2="57.30" y2="532.40" stroke="#000" stroke-width="1.3"/>
<text transform="translate(51.05 535.46) scale(0.93 1)" font-size="8.5" text-anchor="end" font-weight="bold">0</text>
<line x1="82.70" y1="532.40" x2="82.70" y2="537.25" stroke="#000" stroke-width="1.3"/>
<line x1="71.70" y1="477.30" x2="71.70" y2="483.60" stroke="#ff8b42" stroke-width="0.8"/>
<line x1="68.20" y1="477.30" x2="75.20" y2="477.30" stroke="#ff8b42" stroke-width="0.8"/>
<rect x="64.40" y="483.10" width="14.60" height="48.80" fill="#ff8b42"/>
<line x1="93.65" y1="428.40" x2="93.65" y2="445.40" stroke="#740000" stroke-width="0.8"/>
<line x1="90.15" y1="428.40" x2="97.15" y2="428.40" stroke="#740000" stroke-width="0.8"/>
<rect x="86.30" y="444.90" width="14.70" height="87.00" fill="#740000"/>
<line x1="141.10" y1="532.40" x2="141.10" y2="537.25" stroke="#000" stroke-width="1.3"/>
<line x1="130.30" y1="497.30" x2="130.30" y2="500.50" stroke="#ff8b42" stroke-width="0.8"/>
<line x1="126.80" y1="497.30" x2="133.80" y2="497.30" stroke="#ff8b42" stroke-width="0.8"/>
<rect x="122.80" y="500.00" width="15.00" height="31.90" fill="#ff8b42"/>
<line x1="152.20" y1="441.90" x2="152.20" y2="461.00" stroke="#740000" stroke-width="0.8"/>
<line x1="148.70" y1="441.90" x2="155.70" y2="441.90" stroke="#740000" stroke-width="0.8"/>
<rect x="144.70" y="460.50" width="15.00" height="71.40" fill="#740000"/>
<text transform="translate(37.00 477.30) rotate(-90) scale(1.03 1)" font-size="7.7" text-anchor="middle" font-weight="bold">Hcy (nmol/mg)</text>
<line x1="71.90" y1="415.20" x2="93.80" y2="415.20" stroke="#333" stroke-width="0.9"/>
<line x1="130.30" y1="415.20" x2="152.50" y2="415.20" stroke="#333" stroke-width="0.9"/>
<text transform="translate(82.70 413.30) scale(0.93 1)" font-size="7.6" text-anchor="middle" font-weight="bold">*</text>
<text transform="translate(140.70 413.30) scale(0.93 1)" font-size="7.6" text-anchor="middle" font-weight="bold">**</text>
<rect x="191.20" y="427.40" width="11.80" height="5.00" fill="#ff8b42"/>
<text transform="translate(209.90 433.07) scale(0.93 1)" font-size="8.8" text-anchor="start" font-weight="bold">Vector</text>
<rect x="191.20" y="441.80" width="11.80" height="5.00" fill="#740000"/>
<text transform="translate(209.90 447.47) scale(0.93 1)" font-size="8.8" text-anchor="start" font-weight="bold">OE</text>
<text transform="translate(82.50 545.60) scale(0.93 1)" font-size="8.8" text-anchor="middle" font-weight="bold">DMSO</text>
<text transform="translate(141.10 545.60) scale(0.93 1)" font-size="8.8" text-anchor="middle" font-weight="bold">Erastin</text>
<text transform="translate(318.20 399.90)" font-size="13.6" text-anchor="start" font-weight="bold">H</text>
<line x1="346.70" y1="420.65" x2="346.70" y2="533.05" stroke="#000" stroke-width="1.3"/>
<line x1="346.05" y1="532.40" x2="457.30" y2="532.40" stroke="#000" stroke-width="1.3"/>
<line x1="342.25" y1="421.30" x2="346.70" y2="421.30" stroke="#000" stroke-width="1.3"/>
<text transform="translate(340.45 424.47) scale(0.93 1)" font-size="8.8" text-anchor="end" font-weight="bold">2.0</text>
<line x1="342.25" y1="449.10" x2="346.70" y2="449.10" stroke="#000" stroke-width="1.3"/>
<text transform="translate(340.45 452.27) scale(0.93 1)" font-size="8.8" text-anchor="end" font-weight="bold">1.5</text>
<line x1="342.25" y1="476.90" x2="346.70" y2="476.90" stroke="#000" stroke-width="1.3"/>
<text transform="translate(340.45 480.07) scale(0.93 1)" font-size="8.8" text-anchor="end" font-weight="bold">1.0</text>
<line x1="342.25" y1="504.60" x2="346.70" y2="504.60" stroke="#000" stroke-width="1.3"/>
<text transform="translate(340.45 507.77) scale(0.93 1)" font-size="8.8" text-anchor="end" font-weight="bold">0.5</text>
<line x1="342.25" y1="532.40" x2="346.70" y2="532.40" stroke="#000" stroke-width="1.3"/>
<text transform="translate(340.45 535.57) scale(0.93 1)" font-size="8.8" text-anchor="end" font-weight="bold">0.0</text>
<line x1="371.90" y1="532.40" x2="371.90" y2="537.25" stroke="#000" stroke-width="1.3"/>
<line x1="361.25" y1="470.30" x2="361.25" y2="477.50" stroke="#ff8b42" stroke-width="0.8"/>
<line x1="357.75" y1="470.30" x2="364.75" y2="470.30" stroke="#ff8b42" stroke-width="0.8"/>
<rect x="353.80" y="477.00" width="14.90" height="54.90" fill="#ff8b42"/>
<line x1="383.25" y1="494.60" x2="383.25" y2="502.50" stroke="#740000" stroke-width="0.8"/>
<line x1="379.75" y1="494.60" x2="386.75" y2="494.60" stroke="#740000" stroke-width="0.8"/>
<rect x="375.80" y="502.00" width="14.90" height="29.90" fill="#740000"/>
<line x1="431.30" y1="532.40" x2="431.30" y2="537.25" stroke="#000" stroke-width="1.3"/>
<line x1="420.35" y1="436.50" x2="420.35" y2="450.20" stroke="#ff8b42" stroke-width="0.8"/>
<line x1="416.85" y1="436.50" x2="423.85" y2="436.50" stroke="#ff8b42" stroke-width="0.8"/>
<rect x="412.90" y="449.70" width="14.90" height="82.20" fill="#ff8b42"/>
<line x1="442.45" y1="493.20" x2="442.45" y2="498.40" stroke="#740000" stroke-width="0.8"/>
<line x1="438.95" y1="493.20" x2="445.95" y2="493.20" stroke="#740000" stroke-width="0.8"/>
<rect x="435.20" y="497.90" width="14.50" height="34.00" fill="#740000"/>
<text transform="translate(323.50 477.40) rotate(-90) scale(1.04 1)" font-size="7.7" text-anchor="middle" font-weight="bold">Relative Hcy level [fold]</text>
<line x1="383.10" y1="404.60" x2="442.30" y2="404.60" stroke="#333" stroke-width="0.9"/>
<line x1="361.10" y1="423.20" x2="420.20" y2="423.20" stroke="#333" stroke-width="0.9"/>
<text transform="translate(412.80 400.40) scale(0.93 1)" font-size="5.8" text-anchor="middle" font-weight="bold">ns</text>
<text transform="translate(390.00 421.30) scale(0.93 1)" font-size="7.6" text-anchor="middle" font-weight="bold">**</text>
<rect x="482.60" y="426.20" width="11.80" height="5.20" fill="#ff8b42"/>
<text transform="translate(501.20 431.97) scale(0.93 1)" font-size="8.8" text-anchor="start" font-weight="bold">Ctrl</text>
<rect x="482.60" y="440.50" width="11.80" height="5.20" fill="#740000"/>
<text transform="translate(501.20 446.27) scale(0.93 1)" font-size="8.8" text-anchor="start" font-weight="bold">si</text>
<text transform="translate(337.40 550.70) scale(0.93 1)" font-size="9.0" text-anchor="end" font-weight="bold">SAH</text>
<line x1="369.60" y1="547.50" x2="375.40" y2="547.50" stroke="#111" stroke-width="0.85"/>
<line x1="429.00" y1="547.50" x2="434.80" y2="547.50" stroke="#111" stroke-width="0.85"/>
<line x1="431.90" y1="544.60" x2="431.90" y2="550.40" stroke="#111" stroke-width="0.85"/>
<text transform="translate(584.20 399.90)" font-size="13.6" text-anchor="start" font-weight="bold">I</text>
<line x1="619.40" y1="420.35" x2="619.40" y2="533.05" stroke="#000" stroke-width="1.3"/>
<line x1="618.75" y1="532.40" x2="730.80" y2="532.40" stroke="#000" stroke-width="1.3"/>
<line x1="614.95" y1="421.00" x2="619.40" y2="421.00" stroke="#000" stroke-width="1.3"/>
<text transform="translate(613.15 424.17) scale(0.93 1)" font-size="8.8" text-anchor="end" font-weight="bold">3</text>
<line x1="614.95" y1="458.10" x2="619.40" y2="458.10" stroke="#000" stroke-width="1.3"/>
<text transform="translate(613.15 461.27) scale(0.93 1)" font-size="8.8" text-anchor="end" font-weight="bold">2</text>
<line x1="614.95" y1="495.30" x2="619.40" y2="495.30" stroke="#000" stroke-width="1.3"/>
<text transform="translate(613.15 498.47) scale(0.93 1)" font-size="8.8" text-anchor="end" font-weight="bold">1</text>
<line x1="614.95" y1="532.40" x2="619.40" y2="532.40" stroke="#000" stroke-width="1.3"/>
<text transform="translate(613.15 535.57) scale(0.93 1)" font-size="8.8" text-anchor="end" font-weight="bold">0</text>
<line x1="645.10" y1="532.40" x2="645.10" y2="537.25" stroke="#000" stroke-width="1.3"/>
<line x1="633.95" y1="489.80" x2="633.95" y2="494.40" stroke="#ff8b42" stroke-width="0.8"/>
<line x1="630.45" y1="489.80" x2="637.45" y2="489.80" stroke="#ff8b42" stroke-width="0.8"/>
<rect x="626.50" y="493.90" width="14.90" height="38.00" fill="#ff8b42"/>
<line x1="655.90" y1="466.20" x2="655.90" y2="476.50" stroke="#740000" stroke-width="0.8"/>
<line x1="652.40" y1="466.20" x2="659.40" y2="466.20" stroke="#740000" stroke-width="0.8"/>
<rect x="648.40" y="476.00" width="15.00" height="55.90" fill="#740000"/>
<line x1="704.50" y1="532.40" x2="704.50" y2="537.25" stroke="#000" stroke-width="1.3"/>
<line x1="693.35" y1="467.60" x2="693.35" y2="473.80" stroke="#ff8b42" stroke-width="0.8"/>
<line x1="689.85" y1="467.60" x2="696.85" y2="467.60" stroke="#ff8b42" stroke-width="0.8"/>
<rect x="685.90" y="473.30" width="14.90" height="58.60" fill="#ff8b42"/>
<line x1="715.45" y1="436.50" x2="715.45" y2="449.50" stroke="#740000" stroke-width="0.8"/>
<line x1="711.95" y1="436.50" x2="718.95" y2="436.50" stroke="#740000" stroke-width="0.8"/>
<rect x="707.80" y="449.00" width="15.30" height="82.90" fill="#740000"/>
<text transform="translate(602.40 477.40) rotate(-90) scale(1.04 1)" font-size="7.7" text-anchor="middle" font-weight="bold">Relative Hcy level [fold]</text>
<line x1="656.60" y1="404.50" x2="715.80" y2="404.50" stroke="#333" stroke-width="0.9"/>
<line x1="633.90" y1="423.40" x2="693.20" y2="423.40" stroke="#333" stroke-width="0.9"/>
<text transform="translate(685.20 402.50) scale(0.93 1)" font-size="7.6" text-anchor="middle" font-weight="bold">**</text>
<text transform="translate(663.30 421.50) scale(0.93 1)" font-size="7.6" text-anchor="middle" font-weight="bold">*</text>
<rect x="756.10" y="425.80" width="11.80" height="5.20" fill="#ff8b42"/>
<text transform="translate(774.70 431.57) scale(0.93 1)" font-size="8.8" text-anchor="start" font-weight="bold">Vector</text>
<rect x="756.10" y="440.10" width="11.80" height="5.20" fill="#740000"/>
<text transform="translate(774.70 445.87) scale(0.93 1)" font-size="8.8" text-anchor="start" font-weight="bold">OE</text>
<text transform="translate(610.40 550.70) scale(0.93 1)" font-size="9.0" text-anchor="end" font-weight="bold">SAH</text>
<line x1="642.80" y1="547.50" x2="648.60" y2="547.50" stroke="#111" stroke-width="0.85"/>
<line x1="702.20" y1="547.50" x2="708.00" y2="547.50" stroke="#111" stroke-width="0.85"/>
<line x1="705.10" y1="544.60" x2="705.10" y2="550.40" stroke="#111" stroke-width="0.85"/>
</svg>
</body></html>
